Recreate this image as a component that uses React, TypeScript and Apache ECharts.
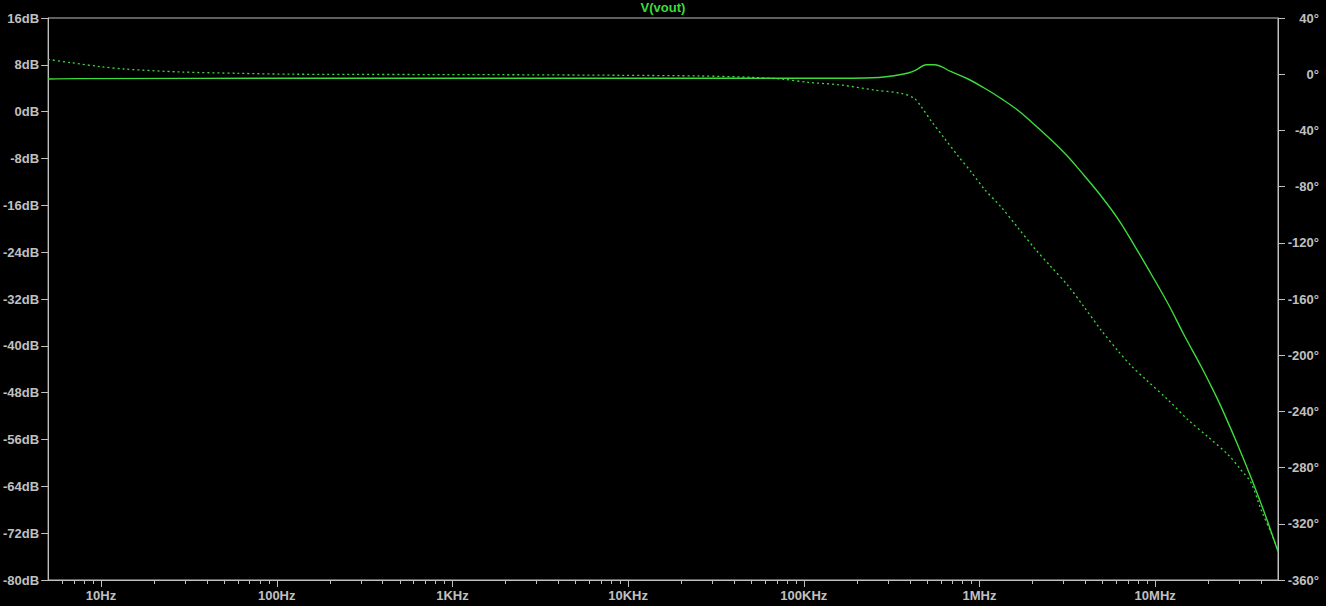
import React, { useEffect, useRef } from "react";
import * as echarts from "echarts";

// Magnitude trace (solid, left axis, dB)
const magFreq: number[] = [
  5, 7.4, 137, 7000, 186000, 268000, 327000, 393000, 436000, 497000, 552000,
  690000, 861000, 1.064e6, 1.327e6, 1.66e6, 2.05e6, 2.56e6, 3.2e6, 3.94e6,
  4.92e6, 6.15e6, 7.59e6, 9.48e6, 11.86e6, 14.6e6, 18.3e6, 21.7e6, 23.8e6,
  28.9e6, 35.2e6, 42.3e6, 50e6,
];
const magDb: number[] = [
  5.58, 5.65, 5.7, 5.7, 5.7, 5.84, 6.14, 6.6, 7.12, 8.02, 8.02, 6.83, 5.58,
  4.04, 2.25, 0.2, -2.19, -4.84, -7.75, -10.91, -14.41, -18.34, -22.78,
  -27.73, -32.86, -38.15, -43.57, -47.98, -50.51, -56.3, -62.58, -68.89,
  -75.14,
];

// Phase trace (dotted, right axis, degrees)
const phaseFreq: number[] = [
  5, 6.75, 10, 13.5, 28.5, 60, 121, 1890, 9100, 26000, 50000, 74000, 106000,
  163000, 251000, 358000, 425000, 466000, 531000, 630000, 755000, 897000,
  1.064e6, 1.327e6, 1.66e6, 2.05e6, 2.56e6, 3.2e6, 3.94e6, 4.92e6, 6.15e6,
  7.3e6, 8.89e6, 11.86e6, 15.4e6, 20.0e6, 26.1e6, 30.8e6, 35.2e6, 40.1e6,
  45.7e6, 50e6,
];
const phaseDeg: number[] = [
  10.6, 8.19, 5.34, 3.7, 1.57, 0.64, 0.0, -0.36, -0.78, -1.28, -2.21, -3.42,
  -5.77, -7.69, -11.25, -13.6, -17.15, -23.1, -33.3, -45.4, -58.2, -69.6,
  -81.7, -94.5, -109.5, -123.7, -137.2, -150.7, -165.7, -182.1, -197.0,
  -207.5, -217.6, -231.9, -246.1, -258.2, -271.0, -281.7, -291.0, -310.2,
  -326.5, -338.6,
];

// Axis ticks / labels
const freqMin = 5;
const freqMax = 5e7;
const decadeFreqs: number[] = [10, 100, 1e3, 1e4, 1e5, 1e6, 1e7];
const decadeLabels: string[] = ["10Hz", "100Hz", "1KHz", "10KHz", "100KHz", "1MHz", "10MHz"];
const minorMultipliers: number[] = [2, 3, 4, 5, 6, 7, 8, 9];
const dbMin = -80;
const dbMax = 16;
const dbStep = 8;
const degMin = -360;
const degMax = 40;
const degStep = 40;

const TRACE = "#3cdc3c";
const GRAY = "#c0c0c0";
const FONT = "Arial, 'Liberation Sans', sans-serif";

export default function App() {
  const ref = useRef<HTMLDivElement>(null);

  useEffect(() => {
    if (!ref.current) return;
    const chart = echarts.init(ref.current, undefined, { renderer: "svg" });
    const lg = (v: number) => Math.log10(v);

    const majorVals = decadeFreqs.map(lg);
    const minorVals: number[] = [];
    for (let d = 0; d <= 7; d++) {
      for (const m of minorMultipliers) {
        const f = m * Math.pow(10, d);
        if (f > freqMin && f < freqMax) minorVals.push(lg(f));
      }
    }
    const labelFor = (v: number) => {
      const i = majorVals.findIndex((m) => Math.abs(m - v) < 1e-6);
      return i >= 0 ? decadeLabels[i] : "";
    };

    const labelStyle = {
      color: GRAY,
      fontFamily: FONT,
      fontSize: 13,
      fontWeight: "bold" as const,
    };

    chart.setOption({
      animation: false,
      backgroundColor: "#000000",
      title: {
        text: "V(vout)",
        left: "center",
        top: 1,
        padding: 0,
        textStyle: { color: TRACE, fontFamily: FONT, fontSize: 13, fontWeight: "bold" },
      },
      grid: {
        left: 46,
        right: 48,
        top: 18,
        bottom: 26,
        show: true,
        borderColor: GRAY,
        borderWidth: 1,
        backgroundColor: "transparent",
      },
      xAxis: {
        type: "value",
        min: lg(freqMin),
        max: lg(freqMax),
        position: "bottom",
        axisLine: { show: true, onZero: false, lineStyle: { color: GRAY, width: 1 } },
        axisTick: { show: false },
        axisLabel: {
          show: true,
          customValues: majorVals,
          formatter: (v: number) => labelFor(v),
          margin: 9,
          ...labelStyle,
        },
        splitLine: { show: false },
      },
      yAxis: [
        {
          type: "value",
          position: "left",
          min: dbMin,
          max: dbMax,
          interval: dbStep,
          axisLine: { show: true, onZero: false, lineStyle: { color: GRAY } },
          axisTick: { show: true, length: 7, lineStyle: { color: GRAY } },
          axisLabel: { formatter: "{value}dB", margin: 9, ...labelStyle },
          splitLine: { show: false },
        },
        {
          type: "value",
          position: "right",
          min: degMin,
          max: degMax,
          interval: degStep,
          axisLine: { show: true, onZero: false, lineStyle: { color: GRAY } },
          axisTick: { show: true, length: 7, lineStyle: { color: GRAY } },
          axisLabel: { formatter: "{value}°", margin: 41, align: "right", ...labelStyle },
          splitLine: { show: false },
        },
      ],
      series: [
        {
          name: "mag",
          type: "line",
          xAxisIndex: 0,
          yAxisIndex: 0,
          showSymbol: false,
          smooth: 0.4,
          data: magFreq.map((f, i) => [lg(f), magDb[i]]),
          lineStyle: { color: TRACE, width: 1.4 },
        },
        {
          name: "phase",
          type: "line",
          xAxisIndex: 0,
          yAxisIndex: 1,
          showSymbol: false,
          smooth: 0.3,
          data: phaseFreq.map((f, i) => [lg(f), phaseDeg[i]]),
          lineStyle: { color: TRACE, width: 1.3, type: [2, 3] },
        },
      ],
    });

    // Frequency-axis ticks, positioned through the chart's own x scale.
    const base = chart.convertToPixel({ gridIndex: 0 }, [majorVals[0], dbMin]) as number[];
    const yBase = Math.round(base[1]);
    const tick = (v: number, len: number) => {
      const p = chart.convertToPixel({ gridIndex: 0 }, [v, dbMin]) as number[];
      const x = Math.round(p[0]) + 0.5;
      return {
        type: "line",
        silent: true,
        z: 10,
        shape: { x1: x, y1: yBase, x2: x, y2: yBase + len },
        style: { stroke: GRAY, lineWidth: 1 },
      };
    };
    chart.setOption({
      graphic: [
        ...majorVals.map((v) => tick(v, 7)),
        ...minorVals.map((v) => tick(v, 4)),
      ],
    });

    return () => chart.dispose();
  }, []);

  return (
    <div
      ref={ref}
      style={{
        position: "fixed",
        left: 0,
        top: 0,
        width: 1326,
        height: 606,
        background: "#000000",
      }}
    />
  );
}
